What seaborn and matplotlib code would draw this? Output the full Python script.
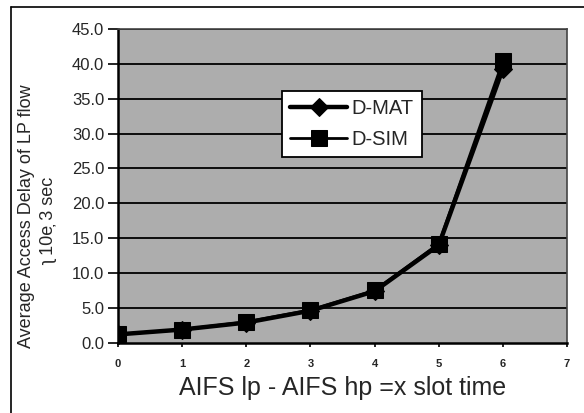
import pandas as pd
import matplotlib
matplotlib.use("Agg")
import matplotlib.pyplot as plt
import seaborn as sns
from matplotlib.lines import Line2D

# Data
slots = [0, 1, 2, 3, 4, 5, 6]
d_mat = [1.2, 1.9, 2.9, 4.6, 7.4, 14.0, 39.3]
d_sim = [1.2, 1.9, 3.0, 4.7, 7.5, 14.2, 40.4]
y_ticks = [0, 5, 10, 15, 20, 25, 30, 35, 40, 45]
x_ticks = [0, 1, 2, 3, 4, 5, 6, 7]

df = pd.DataFrame({
    "x": slots + slots,
    "delay": d_mat + d_sim,
    "series": ["D-MAT"] * len(slots) + ["D-SIM"] * len(slots),
})

sns.set_style("white")
plt.rcParams["font.family"] = ["Liberation Sans", "DejaVu Sans"]

fig = plt.figure(figsize=(5.84, 4.13), dpi=100)
ax = fig.add_axes([0.202, 0.17, 0.769, 0.76])
ax.set_facecolor("#adadad")

# outer frame of the scanned figure (left and top edges only)
fx, fy = 11 / 584, 1 - 7 / 413
fig.lines.append(Line2D([fx, 1.0], [fy, fy], transform=fig.transFigure,
                        color="black", linewidth=1.2))
fig.lines.append(Line2D([fx, fx], [fy, 0.0], transform=fig.transFigure,
                        color="black", linewidth=1.2))

for y in y_ticks[1:]:
    ax.axhline(y, color="black", linewidth=1.3, zorder=1)

sns.lineplot(data=df[df.series == "D-MAT"], x="x", y="delay", ax=ax,
             color="black", linewidth=3.2, marker="D", markersize=9,
             markeredgecolor="black", label="D-MAT", zorder=3)
sns.lineplot(data=df[df.series == "D-SIM"], x="x", y="delay", ax=ax,
             color="black", linewidth=2, marker="s", markersize=11,
             markeredgecolor="black", label="D-SIM", zorder=4)

ax.set_xlim(0, 7)
ax.set_ylim(0, 45)
ax.set_xticks(x_ticks)
ax.set_yticks(y_ticks)
ax.set_yticklabels([f"{v:.1f}" for v in y_ticks], fontsize=12)
ax.set_xticklabels([str(v) for v in x_ticks], fontsize=8, fontweight="bold")
ax.tick_params(axis="both", direction="out", width=1.2,
               color="black", left=True, bottom=True)
ax.tick_params(axis="y", length=7, pad=3)
ax.tick_params(axis="x", length=3, pad=9)

for side in ["left", "bottom"]:
    ax.spines[side].set_color("black")
    ax.spines[side].set_linewidth(1.8)
for side in ["right", "top"]:
    ax.spines[side].set_color("#444444")
    ax.spines[side].set_linewidth(1.2)

ax.set_xlabel("AIFS lp - AIFS hp =x slot time", fontsize=18, labelpad=5)
ax.set_ylabel("")
fig.text(27 / 584, 1 - 216 / 413, "Average Access Delay of LP flow",
         rotation=90, ha="center", va="center", fontsize=13)
fig.text(50 / 584, 1 - 221 / 413, "\u0285 10e\u0326 3 sec",
         rotation=90, ha="center", va="center", fontsize=13)

leg = ax.legend(loc="upper left", bbox_to_anchor=(0.366, 0.8025),
                fontsize=14.5, frameon=True, fancybox=False,
                handlelength=2.8, borderpad=0.4, labelspacing=0.6,
                handletextpad=0.25, borderaxespad=0)
leg.get_frame().set_edgecolor("black")
leg.get_frame().set_linewidth(1.3)
leg.get_frame().set_facecolor("white")
leg.get_frame().set_alpha(1)

fig.savefig("out.png", dpi=100)
